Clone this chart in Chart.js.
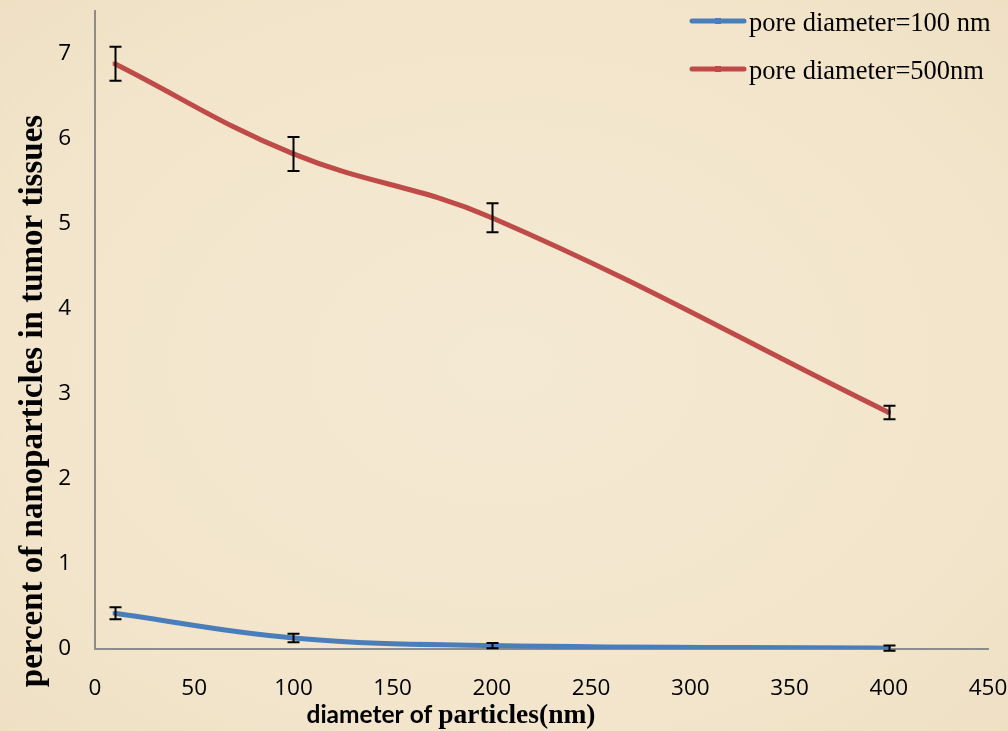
<!DOCTYPE html>
<html>
<head>
<meta charset="utf-8">
<script src="https://cdn.jsdelivr.net/npm/chart.js@4.4.1/dist/chart.umd.min.js"></script>
<style>
  html, body { margin: 0; padding: 0; background: #F2E6CD; }
  #wrap { width: 1008px; height: 731px; position: relative;
    background: radial-gradient(ellipse at 50% 50%, #F4E9D3 0%, #F2E5CB 70%, #EFE0C4 100%); }
</style>
</head>
<body>
<div id="wrap"><canvas id="c" width="1008" height="731"></canvas></div>
<script>
const xValues = [10, 100, 200, 400];
const pore100 = [0.42, 0.13, 0.04, 0.01];
const pore100Err = [0.07, 0.05, 0.03, 0.03];
const pore500 = [6.88, 5.82, 5.07, 2.78];
const pore500Err = [0.2, 0.2, 0.17, 0.08];
const yTickValues = [0, 1, 2, 3, 4, 5, 6, 7];
const seriesLabels = ['pore diameter=100 nm', 'pore diameter=500nm'];
const xTitleParts = ['diameter of ', 'particles(nm)'];
const yTitle = 'percent of nanoparticles in tumor tissues';

const blue = '#4A7EBB';
const red = '#BE4B48';

const errorBars = {
  id: 'errorBars',
  afterDatasetsDraw(chart) {
    const ctx = chart.ctx;
    const xs = chart.scales.x, ys = chart.scales.y;
    chart.data.datasets.forEach(ds => {
      ds.data.forEach((p, i) => {
        const e = ds.errors[i];
        const px = Math.round(xs.getPixelForValue(p.x)) + 0.5;
        const top = ys.getPixelForValue(p.y + e);
        const bot = ys.getPixelForValue(p.y - e);
        ctx.save();
        ctx.strokeStyle = '#000';
        ctx.lineWidth = 2;
        ctx.beginPath();
        ctx.moveTo(px, top); ctx.lineTo(px, bot);
        ctx.moveTo(px - 6, top); ctx.lineTo(px + 6, top);
        ctx.moveTo(px - 6, bot); ctx.lineTo(px + 6, bot);
        ctx.stroke();
        ctx.restore();
      });
    });
  }
};

const extras = {
  id: 'extras',
  afterDraw(chart) {
    const ctx = chart.ctx;
    ctx.save();
    // legend
    chart.data.datasets.forEach((ds, i) => {
      const y = 21 + i * 48;
      ctx.strokeStyle = ds.borderColor;
      ctx.lineWidth = 5;
      ctx.lineCap = 'round';
      ctx.beginPath(); ctx.moveTo(692, y); ctx.lineTo(744, y); ctx.stroke();
      ctx.fillStyle = ds.borderColor;
      ctx.fillRect(715, y - 3, 6, 6);
      ctx.fillStyle = '#000';
      ctx.font = '26.5px "Liberation Serif"';
      ctx.textBaseline = 'middle';
      ctx.textAlign = 'left';
      ctx.fillText(ds.label, 749, y + 3);
    });
    // x title (mixed fonts)
    ctx.fillStyle = '#000';
    ctx.textBaseline = 'alphabetic';
    ctx.textAlign = 'left';
    const f1 = 'bold 24.5px Lato';
    const f2 = 'bold 27.5px "Liberation Serif"';
    ctx.font = f1; const w1 = ctx.measureText(xTitleParts[0]).width;
    ctx.font = f2; const w2 = ctx.measureText(xTitleParts[1]).width;
    let x0 = 451 - (w1 + w2) / 2;
    ctx.font = f1; ctx.fillText(xTitleParts[0], x0, 723);
    ctx.font = f2; ctx.fillText(xTitleParts[1], x0 + w1, 723);
    // y title
    ctx.translate(42, 401);
    ctx.rotate(-Math.PI / 2);
    ctx.textAlign = 'center';
    ctx.font = 'bold 33px "Liberation Serif"';
    ctx.fillText(yTitle, 0, 0);
    ctx.restore();
  }
};

new Chart(document.getElementById('c'), {
  type: 'line',
  data: {
    datasets: [
      { label: seriesLabels[0], data: xValues.map((x, i) => ({ x, y: pore100[i] })), errors: pore100Err,
        borderColor: blue, backgroundColor: blue, borderWidth: 5, tension: 0.4,
        pointStyle: 'rect', pointRadius: 3, pointBorderWidth: 0 },
      { label: seriesLabels[1], data: xValues.map((x, i) => ({ x, y: pore500[i] })), errors: pore500Err,
        borderColor: red, backgroundColor: red, borderWidth: 5, tension: 0.4,
        pointStyle: 'rect', pointRadius: 3, pointBorderWidth: 0 }
    ]
  },
  options: {
    responsive: false,
    animation: false,
    layout: { padding: { top: 11, right: 20, left: 0, bottom: 0 } },
    plugins: { legend: { display: false }, tooltip: { enabled: false } },
    scales: {
      x: {
        type: 'linear', min: 0, max: 450,
        ticks: { stepSize: 50, color: '#000', font: { family: 'Open Sans', size: 22.5 }, padding: 19, maxRotation: 0 },
        grid: { display: false, drawTicks: true, tickLength: 7, tickColor: '#8C8C8C' },
        border: { color: '#8C8C8C', width: 2 },
        afterFit(s) { s.height = 82; s.paddingLeft = 0; s.paddingRight = 0; }
      },
      y: {
        min: 0, max: 7.5,
        afterBuildTicks(s) { s.ticks = yTickValues.map(v => ({ value: v })); },
        ticks: { color: '#000', font: { family: 'Open Sans', size: 22.5 }, padding: 17 },
        grid: { display: false, drawTicks: true, tickLength: 7, tickColor: '#8C8C8C' },
        border: { color: '#8C8C8C', width: 2 },
        afterFit(s) { s.width = 95; s.paddingTop = 0; s.paddingBottom = 0; }
      }
    }
  },
  plugins: [errorBars, extras]
});
</script>
</body>
</html>
